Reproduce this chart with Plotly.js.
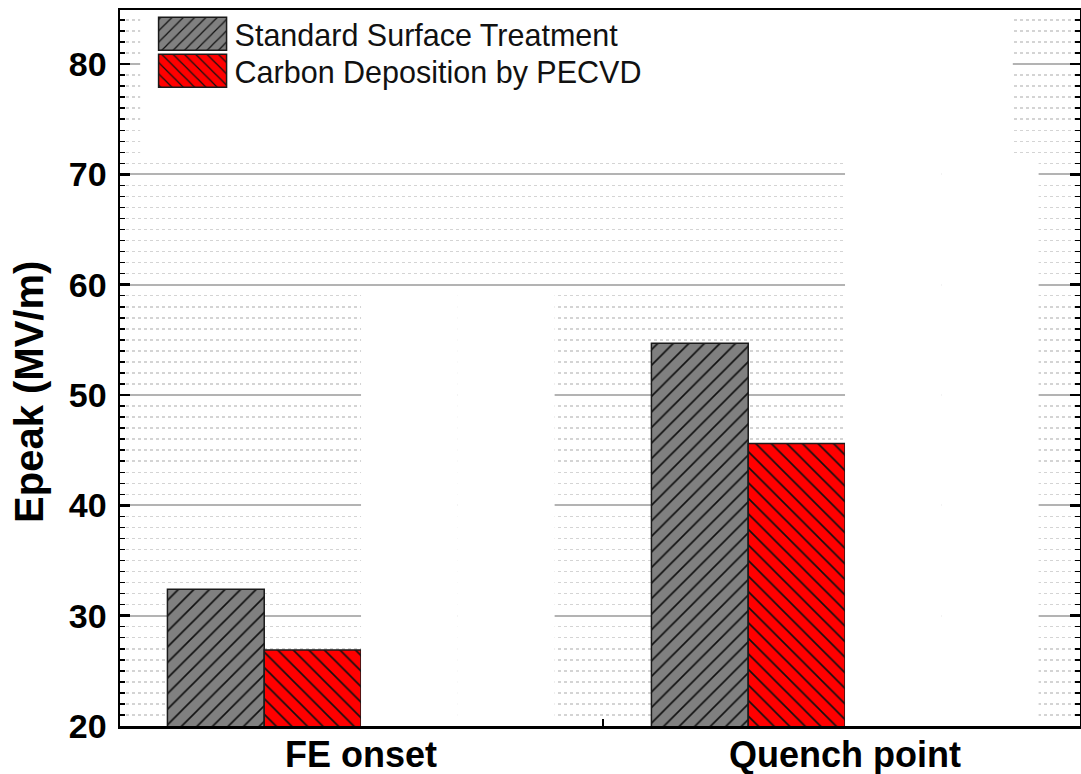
<!DOCTYPE html>
<html>
<head>
<meta charset="utf-8">
<script src="https://cdn.plot.ly/plotly-3.0.1.min.js"></script>
<style>html,body{margin:0;padding:0;background:#fff;}#chart{width:1081px;height:774px;}</style>
</head>
<body>
<div id="chart"></div>
<script>
const categories = ['FE onset', 'Quench point'];
const standardValues = [32.4, 54.7];
const carbonValues = [26.9, 45.6];
// blank (white) bars that mask the grid in the reference
const blankA = [59.7, 71.5];
const blankB = [59.7, 71.5];
const yTicks = [20, 30, 40, 50, 60, 70, 80];
const yTitle = 'Epeak (MV/m)';

const FONT = 'Liberation Sans, Arial, sans-serif';

const traces = [
  {type:'bar', x:categories, y:standardValues, name:'Standard Surface Treatment',
   marker:{color:'#808080', line:{color:'#1a1a1a', width:1.5},
     pattern:{shape:'/', bgcolor:'#808080', fgcolor:'#111', size:11, solidity:0.15, fillmode:'replace'}}},
  {type:'bar', x:categories, y:carbonValues, name:'Carbon Deposition by PECVD',
   marker:{color:'#ff0000', line:{color:'#1a1a1a', width:1.5},
     pattern:{shape:'\\', bgcolor:'#ff0000', fgcolor:'#111', size:11, solidity:0.15, fillmode:'replace'}}},
  {type:'bar', x:categories, y:blankA, showlegend:false, hoverinfo:'skip',
   marker:{color:'#ffffff', line:{width:0}}},
  {type:'bar', x:categories, y:blankB, showlegend:false, hoverinfo:'skip',
   marker:{color:'#ffffff', line:{width:0}}}
];

const layout = {
  width:1081, height:774,
  margin:{l:120, r:1, t:10, b:48},
  paper_bgcolor:'#ffffff', plot_bgcolor:'#ffffff',
  barmode:'group', bargap:0.2, bargroupgap:0,
  font:{family:FONT, color:'#000'},
  xaxis:{type:'category', range:[-0.498, 1.4855], tickson:'boundaries',
    ticks:'inside', ticklen:7, tickwidth:2, tickcolor:'#000',
    showline:true, linecolor:'#000', linewidth:2.5, mirror:true,
    showgrid:false, ticklabelstandoff:-5,
    tickfont:{size:36, family:FONT, weight:'bold'}},
  yaxis:{range:[20, 84.9], tickvals:yTicks, ticktext:yTicks.map(String),
    ticks:'inside', ticklen:10, tickwidth:2.5, tickcolor:'#000',
    showline:true, linecolor:'#000', linewidth:2.5, mirror:'ticks',
    showgrid:true, gridcolor:'#b3b3b3', gridwidth:2, zeroline:false,
    tickfont:{size:34, family:FONT, weight:'bold'},
    ticklabelstandoff:4,
    minor:{dtick:1, ticks:'inside', ticklen:5, tickwidth:1.5, tickcolor:'#000',
      showgrid:true, gridcolor:'#d4d4d4', gridwidth:1.5, griddash:'dot'}},
  annotations:[{text:yTitle, xref:'paper', yref:'paper', x:-0.0948, y:0.4665,
    xanchor:'center', yanchor:'middle', textangle:-90, showarrow:false,
    font:{size:40, family:FONT, weight:'bold', color:'#000'}}],
  legend:{x:0.0256, xanchor:'left', y:1, yanchor:'top', bgcolor:'rgba(0,0,0,0)',
    font:{size:30.5, family:FONT, color:'#111'},
    itemwidth:80, traceorder:'normal'},
  shapes:[{type:'rect', xref:'paper', yref:'paper', x0:0.021, x1:0.93, y0:0.793, y1:1,
    fillcolor:'#ffffff', line:{width:0}, layer:'above'}]
};

Plotly.newPlot('chart', traces, layout, {staticPlot:true}).then(function(gd){
  const items = gd.querySelectorAll('.legend .traces');
  let y0 = null;
  items.forEach(function(it, i){
    const tr = it.getAttribute('transform') || '';
    const m = tr.match(/translate\(\s*([-\d.]+)[ ,]+([-\d.]+)\s*\)/);
    if (m) {
      const x = parseFloat(m[1]);
      if (y0 === null) y0 = parseFloat(m[2]);
      it.setAttribute('transform', 'translate(' + x + ',' + (y0 - 2.5 + i * 37) + ')');
    }
    it.querySelectorAll('.legendpoints path').forEach(function(p){
      p.setAttribute('d', 'M-31,-16.5h68v33h-68Z');
      p.style.strokeWidth = '1.5px';
    });
  });
});
</script>
</body>
</html>
